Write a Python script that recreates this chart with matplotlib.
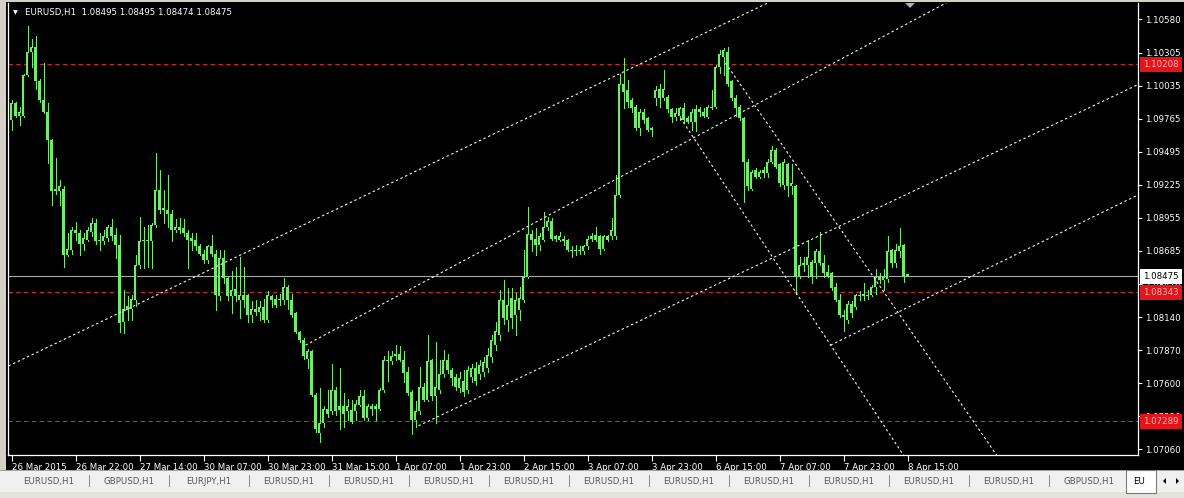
import numpy as np
import matplotlib
matplotlib.use('Agg')
import matplotlib.pyplot as plt
from matplotlib.patches import Rectangle, Polygon
import matplotlib.transforms as mtransforms

# ---------------- data (EURUSD H1 candles) ----------------
opens = [1.0975,1.0989,1.0979,1.0979,1.1012,1.1031,1.1035,1.1007,1.0992,1.0982,
1.0959,1.0917,1.0917,1.0919,1.0865,1.0869,1.0885,1.0883,1.0874,1.0877,
1.0884,1.0891,1.0876,1.0876,1.0879,1.0888,1.0881,1.0873,1.0810,1.0823,
1.0821,1.0828,1.0857,1.0876,1.0877,1.0876,1.0889,1.0918,1.0903,1.0902,
1.0898,1.0885,1.0888,1.0887,1.0883,1.0879,1.0877,1.0872,1.0866,1.0861,
1.0872,1.0866,1.0831,1.0862,1.0846,1.0831,1.0837,1.0828,1.0832,1.0832,
1.0816,1.0821,1.0818,1.0822,1.0812,1.0831,1.0829,1.0828,1.0828,1.0839,
1.0828,1.0817,1.0802,1.0795,1.0780,1.0786,1.0750,1.0719,1.0727,1.0739,
1.0737,1.0754,1.0741,1.0741,1.0737,1.0738,1.0737,1.0742,1.0749,1.0731,
1.0741,1.0739,1.0739,1.0754,1.0779,1.0778,1.0782,1.0784,1.0779,1.0769,
1.0753,1.0730,1.0737,1.0757,1.0746,1.0779,1.0749,1.0754,1.0767,1.0779,
1.0771,1.0765,1.0756,1.0762,1.0754,1.0765,1.0772,1.0767,1.0769,1.0772,
1.0781,1.0791,1.0799,1.0828,1.0812,1.0830,1.0816,1.0820,1.0828,1.0847,
1.0882,1.0878,1.0873,1.0877,1.0888,1.0893,1.0880,1.0877,1.0878,1.0877,
1.0869,1.0868,1.0869,1.0868,1.0872,1.0878,1.0881,1.0880,1.0870,1.0880,
1.0880,1.0880,1.0914,1.1005,1.1000,1.0992,1.0986,1.0969,1.0982,1.0977,
1.0969,1.0993,1.1001,1.0993,1.0994,1.0984,1.0978,1.0979,1.0985,1.0977,
1.0974,1.0984,1.0982,1.0982,1.0978,1.0985,1.0986,1.1019,1.1027,1.1031,
1.1007,1.0993,1.0986,1.0977,1.0941,1.0919,1.0934,1.0929,1.0932,1.0932,
1.0941,1.0951,1.0939,1.0922,1.0939,1.0921,1.0921,1.0848,1.0857,1.0857,
1.0859,1.0858,1.0868,1.0858,1.0851,1.0850,1.0839,1.0828,1.0816,1.0812,
1.0825,1.0822,1.0831,1.0831,1.0832,1.0832,1.0839,1.0848,1.0844,1.0845,
1.0869,1.0858,1.0868,1.0873,1.08495]

highs = [1.0992,1.0990,1.0986,1.1013,1.1052,1.1042,1.1044,1.1009,1.1022,1.0989,
1.0960,1.0944,1.0926,1.0921,1.0883,1.0888,1.0892,1.0885,1.0883,1.0888,
1.0895,1.0894,1.0883,1.0885,1.0889,1.0894,1.0887,1.0881,1.0836,1.0831,
1.0832,1.0865,1.0896,1.0888,1.0889,1.0891,1.0948,1.0934,1.0918,1.0930,
1.0902,1.0894,1.0895,1.0894,1.0885,1.0883,1.0883,1.0874,1.0869,1.0873,
1.0881,1.0869,1.0869,1.0869,1.0847,1.0852,1.0855,1.0863,1.0855,1.0833,
1.0827,1.0828,1.0827,1.0829,1.0835,1.0832,1.0832,1.0833,1.0846,1.0840,
1.0833,1.0818,1.0803,1.0797,1.0788,1.0787,1.0752,1.0756,1.0741,1.0754,
1.0776,1.0757,1.0772,1.0752,1.0747,1.0746,1.0746,1.0754,1.0754,1.0743,
1.0743,1.0743,1.0756,1.0782,1.0786,1.0786,1.0791,1.0790,1.0786,1.0773,
1.0754,1.0745,1.0773,1.0760,1.0799,1.0780,1.0794,1.0779,1.0787,1.0784,
1.0772,1.0767,1.0769,1.0771,1.0774,1.0776,1.0777,1.0779,1.0781,1.0789,
1.0799,1.0810,1.0836,1.0844,1.0838,1.0838,1.0834,1.0839,1.0869,1.0904,
1.0885,1.0887,1.0883,1.0900,1.0896,1.0895,1.0881,1.0884,1.0880,1.0878,
1.0872,1.0873,1.0872,1.0873,1.0880,1.0883,1.0888,1.0881,1.0881,1.0881,
1.0895,1.0930,1.1013,1.1026,1.1008,1.0993,1.0988,1.0984,1.0984,1.0978,
1.0970,1.1003,1.1005,1.1016,1.0996,1.0985,1.0985,1.0986,1.0989,1.0979,
1.0984,1.0988,1.0986,1.0985,1.0988,1.1000,1.1020,1.1033,1.1034,1.1035,
1.1008,1.0996,1.0988,1.0978,1.0943,1.0934,1.0936,1.0934,1.0937,1.0943,
1.0954,1.0952,1.0940,1.0943,1.0940,1.0939,1.0922,1.0863,1.0863,1.0877,
1.0861,1.0870,1.0884,1.0865,1.0857,1.0851,1.0842,1.0833,1.0820,1.0827,
1.0827,1.0833,1.0835,1.0842,1.0836,1.0840,1.0853,1.0850,1.0853,1.0880,
1.0870,1.0874,1.0887,1.0874,1.08495]

lows = [1.0967,1.0978,1.0971,1.0978,1.1011,1.1019,1.1001,1.0990,1.0981,1.0940,
1.0906,1.0915,1.0906,1.0855,1.0864,1.0866,1.0877,1.0865,1.0869,1.0876,
1.0880,1.0874,1.0869,1.0874,1.0876,1.0877,1.0862,1.0802,1.0801,1.0812,
1.0812,1.0823,1.0854,1.0854,1.0855,1.0854,1.0888,1.0899,1.0891,1.0888,
1.0876,1.0884,1.0883,1.0880,1.0854,1.0869,1.0869,1.0865,1.0858,1.0858,
1.0864,1.0820,1.0828,1.0842,1.0828,1.0817,1.0827,1.0813,1.0822,1.0810,
1.0810,1.0816,1.0812,1.0810,1.0810,1.0822,1.0822,1.0824,1.0825,1.0821,
1.0814,1.0801,1.0794,1.0780,1.0772,1.0749,1.0720,1.0712,1.0724,1.0732,
1.0735,1.0734,1.0722,1.0724,1.0730,1.0727,1.0730,1.0741,1.0730,1.0730,
1.0734,1.0730,1.0738,1.0753,1.0762,1.0776,1.0779,1.0778,1.0761,1.0750,
1.0718,1.0724,1.0735,1.0745,1.0745,1.0746,1.0727,1.0752,1.0765,1.0768,
1.0758,1.0754,1.0753,1.0749,1.0752,1.0761,1.0758,1.0763,1.0766,1.0769,
1.0777,1.0787,1.0795,1.0808,1.0803,1.0805,1.0799,1.0812,1.0826,1.0846,
1.0868,1.0865,1.0869,1.0876,1.0885,1.0877,1.0876,1.0876,1.0873,1.0868,
1.0863,1.0865,1.0866,1.0866,1.0870,1.0876,1.0876,1.0866,1.0869,1.0876,
1.0878,1.0878,1.0912,1.0985,1.0986,1.0982,1.0967,1.0963,1.0973,1.0966,
1.0962,1.0988,1.0986,1.0992,1.0982,1.0974,1.0975,1.0975,1.0974,1.0973,
1.0967,1.0966,1.0979,1.0978,1.0977,1.0984,1.0985,1.1014,1.1012,1.1003,
1.0992,1.0979,1.0975,1.0908,1.0918,1.0918,1.0928,1.0928,1.0929,1.0929,
1.0940,1.0936,1.0921,1.0919,1.0913,1.0915,1.0833,1.0846,1.0852,1.0847,
1.0842,1.0846,1.0857,1.0847,1.0847,1.0836,1.0827,1.0814,1.0803,1.0809,
1.0814,1.0821,1.0828,1.0828,1.0829,1.0831,1.0833,1.0842,1.0836,1.0843,
1.0855,1.0855,1.0863,1.0843,1.08474]

closes = [1.0989,1.0979,1.0982,1.1012,1.1031,1.1035,1.1007,1.0992,1.0982,1.0959,
1.0917,1.0919,1.0921,1.0865,1.0870,1.0885,1.0883,1.0874,1.0879,1.0885,
1.0891,1.0876,1.0877,1.0880,1.0888,1.0880,1.0873,1.0809,1.0821,1.0820,
1.0829,1.0857,1.0876,1.0877,1.0876,1.0889,1.0918,1.0902,1.0902,1.0898,
1.0885,1.0888,1.0885,1.0883,1.0877,1.0876,1.0872,1.0866,1.0861,1.0872,
1.0866,1.0832,1.0862,1.0846,1.0831,1.0836,1.0831,1.0832,1.0828,1.0816,
1.0821,1.0818,1.0822,1.0812,1.0832,1.0828,1.0824,1.0829,1.0839,1.0828,
1.0816,1.0802,1.0795,1.0782,1.0786,1.0750,1.0722,1.0727,1.0739,1.0735,
1.0754,1.0737,1.0738,1.0735,1.0741,1.0728,1.0743,1.0749,1.0731,1.0741,
1.0739,1.0741,1.0754,1.0779,1.0778,1.0782,1.0784,1.0779,1.0768,1.0752,
1.0730,1.0737,1.0757,1.0746,1.0778,1.0749,1.0757,1.0767,1.0779,1.0771,
1.0764,1.0757,1.0764,1.0753,1.0771,1.0772,1.0762,1.0775,1.0777,1.0783,
1.0795,1.0803,1.0828,1.0813,1.0824,1.0813,1.0828,1.0830,1.0847,1.0882,
1.0877,1.0873,1.0880,1.0888,1.0893,1.0878,1.0878,1.0880,1.0876,1.0869,
1.0868,1.0869,1.0868,1.0872,1.0878,1.0880,1.0877,1.0870,1.0880,1.0877,
1.0885,1.0914,1.1005,1.0998,1.0990,1.0985,1.0969,1.0982,1.0975,1.0967,
1.0967,1.1000,1.0993,1.1001,1.0984,1.0978,1.0981,1.0985,1.0975,1.0974,
1.0982,1.0974,1.0984,1.0979,1.0986,1.0986,1.1019,1.1029,1.1033,1.1005,
1.0993,1.0985,1.0977,1.0941,1.0921,1.0933,1.0929,1.0933,1.0934,1.0941,
1.0951,1.0937,1.0924,1.0941,1.0921,1.0924,1.0847,1.0857,1.0858,1.0863,
1.0848,1.0868,1.0858,1.0850,1.0848,1.0838,1.0828,1.0816,1.0814,1.0825,
1.0817,1.0832,1.0832,1.0833,1.0831,1.0839,1.0847,1.0844,1.0847,1.0868,
1.0858,1.0869,1.0872,1.0848,1.08475]

# horizontal levels
red_levels = [1.10208, 1.08343, 1.07289]
bid_level = 1.08475

# price scale labels on the right
ytick_vals = [1.10580, 1.10305, 1.10035, 1.09765, 1.09495, 1.09225, 1.08955,
              1.08685, 1.08410, 1.08140, 1.07870, 1.07600, 1.07330, 1.07060]

# time scale labels (every 16 bars)
time_labels = ["26 Mar 2015", "26 Mar 22:00", "27 Mar 14:00", "30 Mar 07:00",
               "30 Mar 23:00", "31 Mar 15:00", "1 Apr 07:00", "1 Apr 23:00",
               "2 Apr 15:00", "3 Apr 07:00", "3 Apr 23:00", "6 Apr 15:00",
               "7 Apr 07:00", "7 Apr 23:00", "8 Apr 15:00"]
time_label_bars = [0, 16, 32, 48, 64, 80, 96, 112, 128, 144, 160, 176, 192, 208, 224]

# trend lines: two anchors (bar index, price), drawn as rays to the right
trend_lines = [
    [(-0.75, 1.0774), (167.25, 1.1037)],
    [(73.5, 1.0791), (167.25, 1.0955)],
    [(101.75, 1.0725), (224.75, 1.0916)],
    [(204.75, 1.0791), (242.25, 1.0851)],
    [(178.5, 1.1022), (224.75, 1.0803)],
    [(167.25, 1.0977), (204.0, 1.0795)],
]

tab_names = ["EURUSD,H1", "GBPUSD,H1", "EURJPY,H1", "EURUSD,H1", "EURUSD,H1",
             "EURUSD,H1", "EURUSD,H1", "EURUSD,H1", "EURUSD,H1", "EURUSD,H1",
             "EURUSD,H1", "EURUSD,H1", "EURUSD,H1", "GBPUSD,H1"]

title = "EURUSD,H1  1.08495 1.08495 1.08474 1.08475"

# ---------------- drawing ----------------
GREEN = '#70EC68'
RED = '#D0262C'
FONT = 'DejaVu Sans'
FS = 6.2

W, H = 1184, 498
fig = plt.figure(figsize=(W / 100, H / 100), dpi=100, facecolor='black')


def fx(x):
    return x / W


def fy(y):
    return 1 - y / H


ax = fig.add_axes([fx(8), fy(455), (1138 - 8) / W, (455 - 3) / H])
ax.set_facecolor('black')
ax.set_xlim(-0.875, 281.625)
ax.set_ylim(1.07011, 1.10711)

# one pixel in price units (for minimum body height / hollow inset)
ppx = (1.10711 - 1.07011) / 452.0

o = np.array(opens)
h = np.array(highs)
l = np.array(lows)
c = np.array(closes)
x = np.arange(len(c))
up = c > o

ax.vlines(x, l, h, color=GREEN, lw=0.72, zorder=3, antialiased=False)
bottoms = np.minimum(o, c)
tops = np.maximum(o, c)
heights = np.maximum(tops - bottoms, ppx)
ax.bar(x, heights, bottom=bottoms, width=0.75, color=GREEN, edgecolor='none',
       linewidth=0, zorder=4, antialiased=False)
# bull candles are hollow (black centre column)
hollow = up & ((tops - bottoms) > 2.5 * ppx)
ax.vlines(x[hollow], bottoms[hollow] + ppx, tops[hollow] - ppx, color='#0A140A',
          lw=0.72, zorder=5, antialiased=False)

for lv in red_levels:
    ax.axhline(lv, color=RED, lw=0.8, ls=(0, (4, 3)), zorder=2)
ax.axhline(bid_level, color='#A9A9A9', lw=0.8, zorder=2)

for (x0, p0), (x1, p1) in trend_lines:
    slope = (p1 - p0) / (x1 - x0)
    xe = 400
    ax.plot([x0, xe], [p0, p0 + slope * (xe - x0)], color='#F4F4EE', lw=0.8,
            ls=(0, (2.2, 2.4)), zorder=6, clip_on=True)

# spines
ax.spines['top'].set_visible(False)
for side in ['left', 'right', 'bottom']:
    ax.spines[side].set_color('white')
    ax.spines[side].set_linewidth(0.9)

ax.yaxis.tick_right()
ax.set_yticks(ytick_vals)
ax.set_yticklabels([f"{v:.5f}" for v in ytick_vals], fontsize=FS, color='white',
                   family=FONT)
ax.tick_params(axis='y', colors='white', length=3, width=0.8, pad=2)

ax.set_xticks(time_label_bars)
ax.set_xticklabels(time_labels, fontsize=FS, color='white', family=FONT)
for t in ax.get_xticklabels():
    t.set_horizontalalignment('left')
ax.tick_params(axis='x', colors='white', length=4, width=0.8, pad=1.5)

# price labels (boxes) on the price scale
btr = mtransforms.blended_transform_factory(ax.transAxes, ax.transData)
for lv in red_levels:
    ax.text(1.0045, lv, f"{lv:.5f}", transform=btr, va='center', ha='left',
            fontsize=FS, color='#FFB4B4', family=FONT, zorder=10, clip_on=False,
            bbox=dict(boxstyle='square,pad=0.35', fc='#E3151B', ec='none'))
ax.text(1.0045, bid_level, f"{bid_level:.5f}", transform=btr, va='center', ha='left',
        fontsize=FS, color='black', family=FONT, zorder=10, clip_on=False,
        bbox=dict(boxstyle='square,pad=0.35', fc='white', ec='none'))

# title
fig.text(fx(13), fy(12.5), "\u25BC", fontsize=4.5, color='white', va='center',
         ha='left', family=FONT)
fig.text(fx(25), fy(12.5), title, fontsize=FS, color='white', va='center',
         ha='left', family=FONT)

# window frame pieces
fig.patches.append(Rectangle((0, fy(470)), fx(6), 470 / H, transform=fig.transFigure,
                             facecolor='#D4D0C8', edgecolor='none', zorder=0))
fig.patches.append(Rectangle((0, fy(2.5)), 1, 2.5 / H, transform=fig.transFigure,
                             facecolor='#D4D0C8', edgecolor='none', zorder=0))
# chart shift marker
fig.patches.append(Polygon([(fx(905), fy(3)), (fx(915), fy(3)), (fx(910), fy(8))],
                           closed=True, transform=fig.transFigure,
                           facecolor='#B0B0B0', edgecolor='none', zorder=6))

# tab bar
fig.patches.append(Rectangle((0, 0), 1, (498 - 470) / H, transform=fig.transFigure,
                             facecolor='#F0F0F0', edgecolor='none', zorder=1))
fig.patches.append(Rectangle((0, fy(471)), 1, 1 / H, transform=fig.transFigure,
                             facecolor='#A0A0A0', edgecolor='none', zorder=1))
fig.patches.append(Rectangle((0, 0), 1, (498 - 492) / H, transform=fig.transFigure,
                             facecolor='#E4E2DC', edgecolor='none', zorder=1))
for k, name in enumerate(tab_names):
    cx = 49 + 80 * k
    fig.text(fx(cx), fy(481), name, fontsize=FS, color='#555555', va='center',
             ha='center', family=FONT, zorder=3)
    fig.patches.append(Rectangle((fx(cx + 40), fy(487)), 1 / W, 12 / H,
                                 transform=fig.transFigure, facecolor='#8C8C8C',
                                 edgecolor='none', zorder=2))
# active tab
fig.patches.append(Rectangle((fx(1126), fy(493)), 30 / W, 23 / H,
                             transform=fig.transFigure, facecolor='white',
                             edgecolor='#7A7A7A', linewidth=0.8, zorder=2))
fig.text(fx(1133), fy(481), "EU", fontsize=FS, color='black', va='center',
         ha='left', family=FONT, zorder=3)
fig.patches.append(Polygon([(fx(1166), fy(478)), (fx(1166), fy(484)), (fx(1163), fy(481))],
                           closed=True, transform=fig.transFigure,
                           facecolor='black', edgecolor='none', zorder=3))
fig.patches.append(Polygon([(fx(1176), fy(478)), (fx(1176), fy(484)), (fx(1179), fy(481))],
                           closed=True, transform=fig.transFigure,
                           facecolor='black', edgecolor='none', zorder=3))

fig.savefig('out.png', dpi=100, facecolor='black')
